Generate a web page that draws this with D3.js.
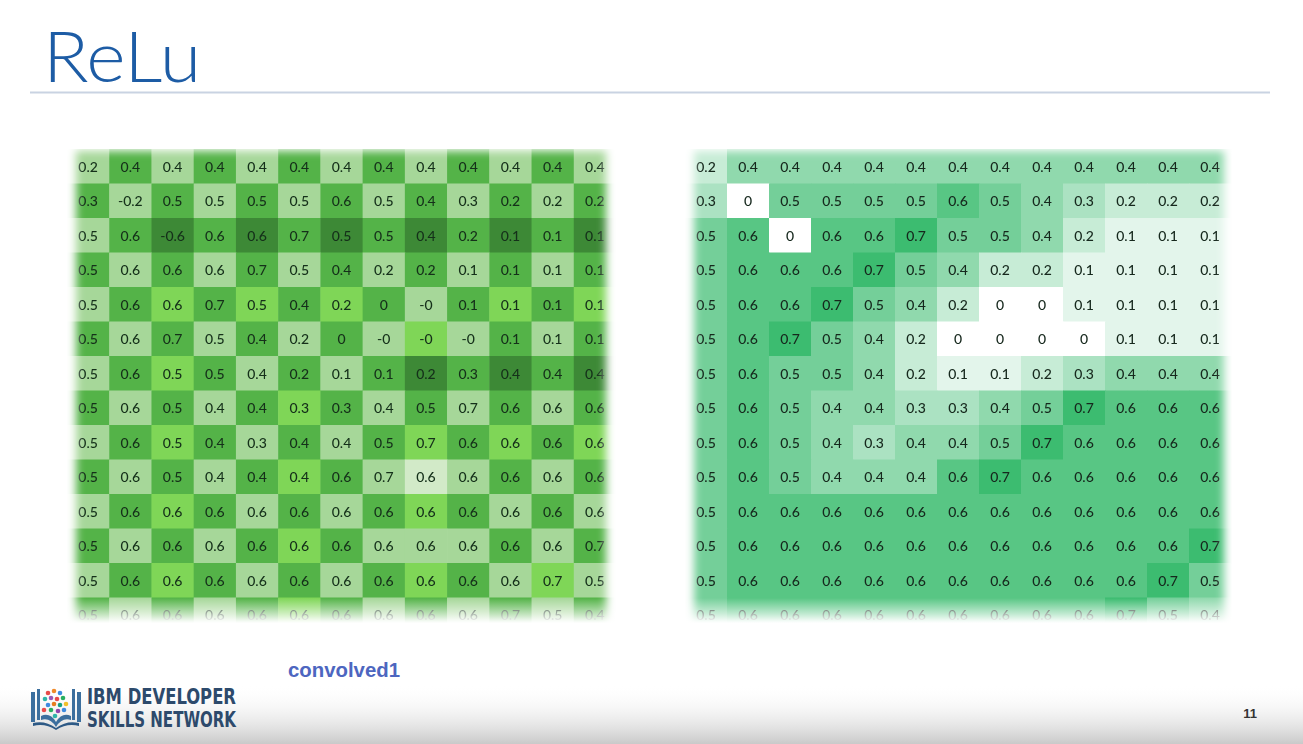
<!DOCTYPE html>
<html><head><meta charset="utf-8">
<script src="https://cdn.jsdelivr.net/npm/d3@7"></script>
<style>html,body{margin:0;padding:0;background:#fff;overflow:hidden}</style>
</head><body>
<svg id="chart" width="1303" height="744"></svg>
<script>
// ---------- data ----------
const colIndex = d3.range(13);
const rowIndex = d3.range(14);

// left panel: convolved1 values (-0 = tiny negative, shown as "-0")
const convolved = [
  [0.2,0.4,0.4,0.4,0.4,0.4,0.4,0.4,0.4,0.4,0.4,0.4,0.4],
  [0.3,-0.2,0.5,0.5,0.5,0.5,0.6,0.5,0.4,0.3,0.2,0.2,0.2],
  [0.5,0.6,-0.6,0.6,0.6,0.7,0.5,0.5,0.4,0.2,0.1,0.1,0.1],
  [0.5,0.6,0.6,0.6,0.7,0.5,0.4,0.2,0.2,0.1,0.1,0.1,0.1],
  [0.5,0.6,0.6,0.7,0.5,0.4,0.2,0,-0,0.1,0.1,0.1,0.1],
  [0.5,0.6,0.7,0.5,0.4,0.2,0,-0,-0,-0,0.1,0.1,0.1],
  [0.5,0.6,0.5,0.5,0.4,0.2,0.1,0.1,0.2,0.3,0.4,0.4,0.4],
  [0.5,0.6,0.5,0.4,0.4,0.3,0.3,0.4,0.5,0.7,0.6,0.6,0.6],
  [0.5,0.6,0.5,0.4,0.3,0.4,0.4,0.5,0.7,0.6,0.6,0.6,0.6],
  [0.5,0.6,0.5,0.4,0.4,0.4,0.6,0.7,0.6,0.6,0.6,0.6,0.6],
  [0.5,0.6,0.6,0.6,0.6,0.6,0.6,0.6,0.6,0.6,0.6,0.6,0.6],
  [0.5,0.6,0.6,0.6,0.6,0.6,0.6,0.6,0.6,0.6,0.6,0.6,0.7],
  [0.5,0.6,0.6,0.6,0.6,0.6,0.6,0.6,0.6,0.6,0.6,0.7,0.5],
  [0.5,0.6,0.6,0.6,0.6,0.6,0.6,0.6,0.6,0.6,0.7,0.5,0.4]
];

// left panel underlying image intensity (0 pale .. 4 dark)
const convolvedShade = [
  [1,3,1,3,1,3,1,3,1,3,1,3,1],
  [3,1,3,1,3,1,3,1,3,1,3,1,3],
  [1,3,4,3,4,3,4,3,4,3,4,3,4],
  [3,1,3,1,3,1,3,1,3,1,3,1,3],
  [1,3,2,3,2,3,2,3,1,3,2,3,2],
  [3,1,3,1,3,1,3,1,2,1,3,1,3],
  [1,3,2,3,1,3,1,3,4,3,4,3,4],
  [3,1,3,1,3,2,3,1,3,1,3,1,3],
  [1,3,2,3,1,3,1,3,2,3,2,3,2],
  [3,1,3,1,3,2,3,1,0,1,3,1,3],
  [1,3,2,3,1,3,1,3,2,3,1,3,1],
  [3,1,3,1,3,2,3,1,1,1,3,1,3],
  [1,3,2,3,1,3,1,3,2,3,1,2,1],
  [3,1,3,1,3,2,3,1,3,1,3,1,3]
];

// right panel: ReLU output
const reluOut = [
  [0.2,0.4,0.4,0.4,0.4,0.4,0.4,0.4,0.4,0.4,0.4,0.4,0.4],
  [0.3,0,0.5,0.5,0.5,0.5,0.6,0.5,0.4,0.3,0.2,0.2,0.2],
  [0.5,0.6,0,0.6,0.6,0.7,0.5,0.5,0.4,0.2,0.1,0.1,0.1],
  [0.5,0.6,0.6,0.6,0.7,0.5,0.4,0.2,0.2,0.1,0.1,0.1,0.1],
  [0.5,0.6,0.6,0.7,0.5,0.4,0.2,0,0,0.1,0.1,0.1,0.1],
  [0.5,0.6,0.7,0.5,0.4,0.2,0,0,0,0,0.1,0.1,0.1],
  [0.5,0.6,0.5,0.5,0.4,0.2,0.1,0.1,0.2,0.3,0.4,0.4,0.4],
  [0.5,0.6,0.5,0.4,0.4,0.3,0.3,0.4,0.5,0.7,0.6,0.6,0.6],
  [0.5,0.6,0.5,0.4,0.3,0.4,0.4,0.5,0.7,0.6,0.6,0.6,0.6],
  [0.5,0.6,0.5,0.4,0.4,0.4,0.6,0.7,0.6,0.6,0.6,0.6,0.6],
  [0.5,0.6,0.6,0.6,0.6,0.6,0.6,0.6,0.6,0.6,0.6,0.6,0.6],
  [0.5,0.6,0.6,0.6,0.6,0.6,0.6,0.6,0.6,0.6,0.6,0.6,0.7],
  [0.5,0.6,0.6,0.6,0.6,0.6,0.6,0.6,0.6,0.6,0.6,0.7,0.5],
  [0.5,0.6,0.6,0.6,0.6,0.6,0.6,0.6,0.6,0.6,0.7,0.5,0.4]
];

const titleText = "ReLu";
const captionText = "convolved1";
const logoLines = ["IBM DEVELOPER", "SKILLS NETWORK"];
const pageNumber = "11";

// ---------- drawing ----------
const svg = d3.select("#chart");
const defs = svg.append("defs");

const fmt = v => (v === 0 && 1 / v < 0) ? "-0" : String(v);

const bg = defs.append("linearGradient").attr("id","bottomBand").attr("x1",0).attr("x2",0).attr("y1",0).attr("y2",1);
bg.append("stop").attr("offset","0%").attr("stop-color","#ffffff").attr("stop-opacity",0);
bg.append("stop").attr("offset","100%").attr("stop-color","#c9c9c9").attr("stop-opacity",1);

const fadeDown = defs.append("linearGradient").attr("id","fadeDown").attr("x1",0).attr("x2",0).attr("y1",0).attr("y2",1);
fadeDown.append("stop").attr("offset","0%").attr("stop-color","#fff").attr("stop-opacity",0);
fadeDown.append("stop").attr("offset","55%").attr("stop-color","#fff").attr("stop-opacity",1);
fadeDown.append("stop").attr("offset","100%").attr("stop-color","#fff").attr("stop-opacity",1);

defs.append("filter").attr("id","soft").attr("x","-5%").attr("y","-5%").attr("width","110%").attr("height","110%")
  .append("feGaussianBlur").attr("stdDeviation",4);

function makeMask(id, x0, x1, y0, y1) {
  defs.append("mask").attr("id", id).attr("maskUnits","userSpaceOnUse")
    .attr("x",0).attr("y",0).attr("width",1303).attr("height",744)
    .append("rect").attr("x",x0).attr("y",y0).attr("width",x1-x0).attr("height",y1-y0)
    .attr("fill","#fff").attr("filter","url(#soft)");
}

svg.append("rect").attr("x",0).attr("y",0).attr("width",1303).attr("height",744).attr("fill","#fff");
svg.append("rect").attr("x",0).attr("y",684).attr("width",1303).attr("height",60).attr("fill","url(#bottomBand)");

// title & rule
svg.append("text").attr("x",43).attr("y",82).text(titleText)
  .attr("font-family","Lato, 'Open Sans', sans-serif").attr("font-size",70).attr("font-weight",300)
  .attr("fill","#1d5ca5").attr("textLength",158).attr("lengthAdjust","spacingAndGlyphs");
svg.append("line").attr("x1",30).attr("x2",1270).attr("y1",92.5).attr("y2",92.5)
  .attr("stroke","#c9d3e2").attr("stroke-width",2);

const shadeColor = d3.scaleLinear().domain([0,1,2,3,4])
  .range(["#d2eac8","#a6d799","#7fd657","#54b348","#3d8936"]);
const reluColor = d3.scaleLinear().domain([0,0.7]).range(["#ffffff","#3cbc70"]);

function drawPanel(id, x0, x1, values, colorOf, textFill, mx0, mx1) {
  const x = d3.scaleBand().domain(colIndex).range([x0, x1]);
  const y = d3.scaleBand().domain(rowIndex).range([149, 632]);
  makeMask(id, mx0, mx1, 151, 624);
  const g = svg.append("g").attr("mask", `url(#${id})`);
  const cells = rowIndex.flatMap(r => colIndex.map(c => ({r, c, v: values[r][c]})));
  g.selectAll("rect.cell").data(cells).join("rect").attr("class","cell")
    .attr("x", d => x(d.c)).attr("y", d => y(d.r))
    .attr("width", x.bandwidth() + 0.5).attr("height", y.bandwidth() + 0.5)
    .attr("fill", d => colorOf(d));
  g.selectAll("text").data(cells).join("text")
    .attr("x", d => x(d.c) + x.bandwidth()/2).attr("y", d => y(d.r) + y.bandwidth()/2)
    .attr("text-anchor","middle").attr("dominant-baseline","central")
    .attr("font-family","Lato, 'Open Sans', sans-serif").attr("font-size",14).attr("font-weight",500)
    .attr("fill", textFill).text(d => fmt(d.v));
  svg.append("rect").attr("x", x0 - 10).attr("y", 598).attr("width", x1 - x0 + 20).attr("height", 46)
    .attr("fill","url(#fadeDown)");
}

drawPanel("maskL", 67, 616, convolved, d => shadeColor(convolvedShade[d.r][d.c]), "#15301a", 76, 606);
drawPanel("maskR", 685, 1231, reluOut, d => reluColor(d.v), "#16281d", 694, 1224);

// caption
svg.append("text").attr("x",288).attr("y",677).text(captionText)
  .attr("font-family","'Liberation Sans', Arial, sans-serif").attr("font-size",20).attr("font-weight",700)
  .attr("fill","#4d66c0").attr("textLength",112).attr("lengthAdjust","spacingAndGlyphs");

// logo icon
const logo = svg.append("g");
const bookBlue = "#3c6f9e";
[[31,692,4,30],[37,689,3,31]].forEach(([x,y,w,h]) => logo.append("rect").attr("x",x).attr("y",y).attr("width",w).attr("height",h).attr("fill",bookBlue));
[[77,692,4,30],[72,689,3,31]].forEach(([x,y,w,h]) => logo.append("rect").attr("x",x).attr("y",y).attr("width",w).attr("height",h).attr("fill",bookBlue));
logo.append("path").attr("d","M41,716 Q50,712 56,722 Q62,712 71,716 L71,720 Q62,717 56,727 Q50,717 41,720 Z").attr("fill",bookBlue);
logo.append("path").attr("d","M33,723 Q45,720 56,728 Q67,720 79,723 L79,726 Q67,723 56,730 Q45,723 33,726 Z").attr("fill","#2e5a86");
const dots = [[48,693,"#e84b4b"],[54,691,"#f08a2a"],[60,693,"#3d8be0"],[45,699,"#2fb5a8"],[51,698,"#9b59b6"],[57,699,"#e84b4b"],[63,698,"#27ae60"],[66,704,"#f0c02a"],[48,705,"#3d8be0"],[54,704,"#e67e22"],[60,705,"#16a085"],[44,710,"#e84b4b"],[51,710,"#27ae60"],[58,711,"#8e44ad"],[64,710,"#3d8be0"],[55,716,"#2fb5a8"]];
dots.forEach(([x,y,c]) => logo.append("circle").attr("cx",x).attr("cy",y).attr("r",2.3).attr("fill",c));

svg.append("text").attr("x",87).attr("y",704).text(logoLines[0])
  .attr("font-family","'Liberation Sans Narrow','DejaVu Sans Condensed',sans-serif").attr("font-size",21).attr("font-weight",700)
  .attr("fill","#2d4a6c").attr("textLength",149).attr("lengthAdjust","spacingAndGlyphs");
svg.append("text").attr("x",87).attr("y",727).text(logoLines[1])
  .attr("font-family","'Liberation Sans Narrow','DejaVu Sans Condensed',sans-serif").attr("font-size",21).attr("font-weight",700)
  .attr("fill","#2d4a6c").attr("textLength",149).attr("lengthAdjust","spacingAndGlyphs");

svg.append("text").attr("x",1250).attr("y",718).attr("text-anchor","middle").text(pageNumber)
  .attr("font-family","'Liberation Sans', Arial, sans-serif").attr("font-size",13).attr("font-weight",700)
  .attr("fill","#333");
</script>
</body></html>
